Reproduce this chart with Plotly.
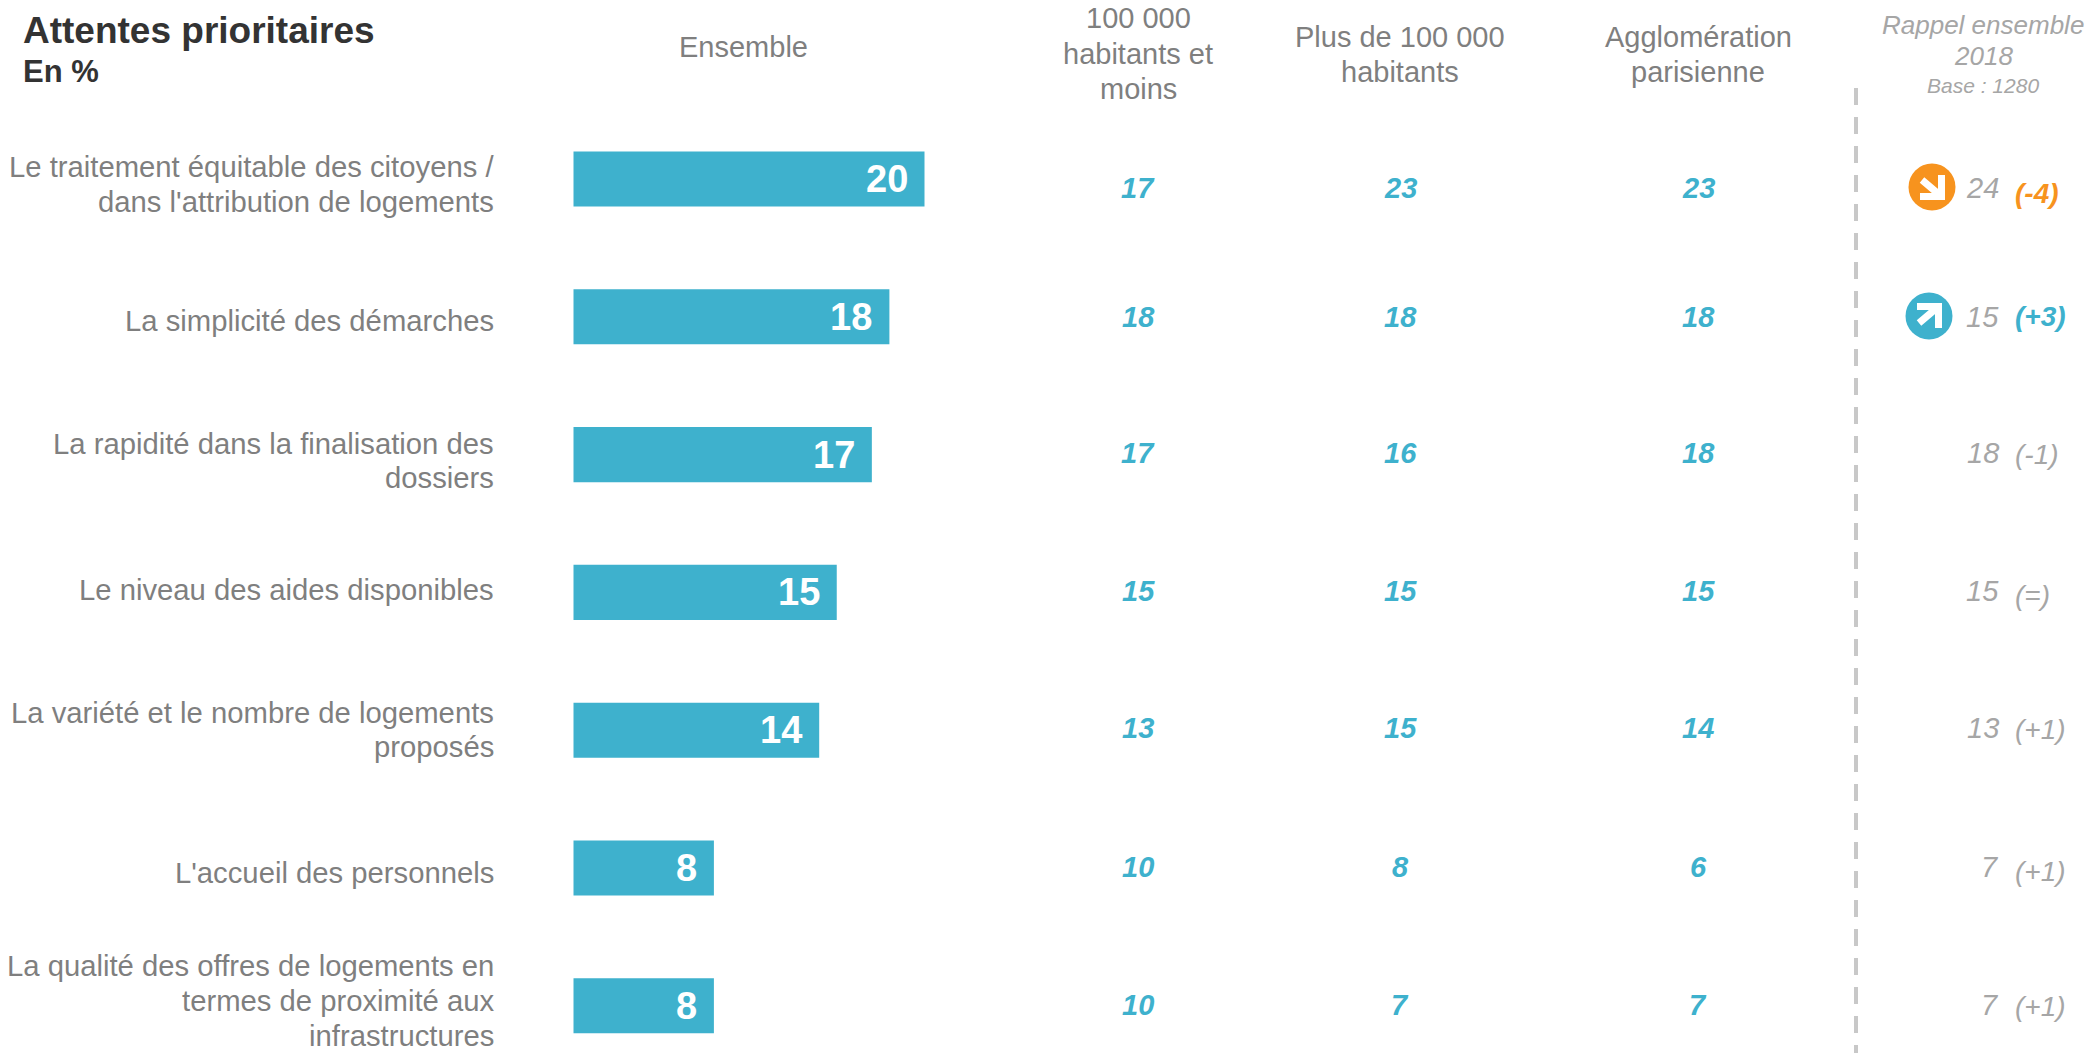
import plotly.graph_objects as go

# Survey results: priority expectations, in %
categories = [
    "Le traitement équitable des citoyens /<br>dans l'attribution de logements",
    "La simplicité des démarches",
    "La rapidité dans la finalisation des<br>dossiers",
    "Le niveau des aides disponibles",
    "La variété et le nombre de logements<br>proposés",
    "L'accueil des personnels",
    "La qualité des offres de logements en<br>termes de proximité aux<br>infrastructures",
]
ensemble = [20, 18, 17, 15, 14, 8, 8]
moins_100k = [17, 18, 17, 15, 13, 10, 10]
plus_100k = [23, 18, 16, 15, 15, 8, 7]
agglo_paris = [23, 18, 18, 15, 14, 6, 7]
rappel_2018 = [24, 15, 18, 15, 13, 7, 7]
evolution = ["(-4)", "(+3)", "(-1)", "(=)", "(+1)", "(+1)", "(+1)"]

W, H = 2089, 1053
BLUE = "#3eb1cd"
ORANGE = "#f7931e"
GREY = "#7f7f7f"
LIGHT = "#a6a6a6"
FONT = "Liberation Sans"
PX_PER_UNIT = 17.55
ROW_PX = 137.8
FIRST_ROW_PX = 179
BAR_LEFT = 573.5


def px(x):
    return x / W


def py(y):
    return 1 - y / H


fig = go.Figure(
    go.Bar(
        y=categories,
        x=ensemble,
        orientation="h",
        width=0.4,
        marker=dict(color=BLUE, line=dict(width=0)),
        hoverinfo="x+y",
    )
)

notes = []


def note(text, x, y, size, color, anchor="center", bold=False, italic=False):
    if bold:
        text = f"<b>{text}</b>"
    if italic:
        text = f"<i>{text}</i>"
    notes.append(dict(
        text=text, x=px(x), y=py(y), xref="paper", yref="paper",
        xanchor=anchor, yanchor="middle", showarrow=False,
        font=dict(family=FONT, size=size, color=color),
    ))


def block(text, x, y_center, size, color, leading, anchor="center", **style):
    # Multi-line text placed line by line to control the leading
    lines = text.split("<br>")
    top = y_center - leading * (len(lines) - 1) / 2
    for k, line in enumerate(lines):
        note(line, x, top + k * leading, size, color, anchor=anchor, **style)


# Title block
note("Attentes prioritaires", 21, 31, 37, "#333333", anchor="left", bold=True)
note("En %", 21, 72, 31, "#333333", anchor="left", bold=True)

# Column headers
note("Ensemble", 743, 47, 29, GREY)
block("100 000<br>habitants et<br>moins", 1138, 53.5, 29, GREY, 35.5)
block("Plus de 100 000<br>habitants", 1400, 54.5, 29, GREY, 35.5)
block("Agglomération<br>parisienne", 1698, 54.5, 29, GREY, 35.5)
block("Rappel ensemble<br>2018", 1983, 41, 26, LIGHT, 31, italic=True)
note("Base : 1280", 1983, 85, 21, LIGHT, italic=True)

label_y = [184.6, 321, 461, 590, 730, 873, 1001]
value_nudge = [9, 0.5, -2, -1, -2, -1, -1]
paren_nudge = [14, 0, 0, 3, -1, 3, 1]
paren_colors = [ORANGE, BLUE, LIGHT, LIGHT, LIGHT, LIGHT, LIGHT]
for i, cat in enumerate(categories):
    y_row = FIRST_ROW_PX + i * ROW_PX
    # Row label
    block(cat, 495.5, label_y[i], 29.25, GREY, 34.6, anchor="right")
    # Value inside the bar
    notes.append(dict(
        text=f"<b>{ensemble[i]}</b>", x=ensemble[i], y=cat, xref="x", yref="y",
        xanchor="right", yanchor="middle", xshift=-15, showarrow=False,
        font=dict(family=FONT, size=38, color="white"),
    ))
    # Breakdown columns
    for x_col, values in ((1138, moins_100k), (1400, plus_100k), (1698, agglo_paris)):
        note(str(values[i]), x_col, y_row + value_nudge[i], 29, BLUE, bold=True, italic=True)
    # 2018 reminder and change
    note(str(rappel_2018[i]), 2001, y_row + value_nudge[i], 29, LIGHT, anchor="right", italic=True)
    note(evolution[i], 2013, y_row + paren_nudge[i], 28, paren_colors[i],
         anchor="left", bold=i < 2, italic=True)

shapes = [dict(
    type="line", xref="paper", yref="paper", x0=px(1856), x1=px(1856), y0=py(88), y1=py(H),
    line=dict(color="#c8c8c8", width=4, dash="17px,12px"),
)]

# Trend icons: a filled disc with a white corner arrow (pixel offsets run upward)
ICON_DOWN = "M -10 7 L 9.5 -9.5 M 9.5 12 L 9.5 -9.5 L -12 -9.5"
ICON_UP = "M -10 -7 L 9.5 9.5 M -12 9.5 L 9.5 9.5 L 9.5 -12"
for cx, cy, color, arrow in ((1932, 187, ORANGE, ICON_DOWN), (1929, 316, BLUE, ICON_UP)):
    shapes.append(dict(
        type="circle", xref="paper", yref="paper", xsizemode="pixel", ysizemode="pixel",
        xanchor=px(cx), yanchor=py(cy), x0=-23.5, x1=23.5, y0=-23.5, y1=23.5,
        fillcolor=color, line=dict(width=0),
    ))
    shapes.append(dict(
        type="path", xref="paper", yref="paper", xsizemode="pixel", ysizemode="pixel",
        xanchor=px(cx), yanchor=py(cy), path=arrow,
        line=dict(color="white", width=7),
    ))

fig.update_layout(
    width=W, height=H,
    margin=dict(l=0, r=0, t=0, b=0),
    paper_bgcolor="white", plot_bgcolor="white",
    showlegend=False,
    annotations=notes,
    shapes=shapes,
    xaxis=dict(
        range=[-BAR_LEFT / PX_PER_UNIT, (W - BAR_LEFT) / PX_PER_UNIT],
        visible=False, fixedrange=True,
    ),
    yaxis=dict(
        type="category",
        categoryorder="array", categoryarray=categories,
        range=[(H - FIRST_ROW_PX) / ROW_PX, -FIRST_ROW_PX / ROW_PX],
        visible=False, fixedrange=True,
    ),
)

fig.write_html("out.html", config=dict(displayModeBar=False))
